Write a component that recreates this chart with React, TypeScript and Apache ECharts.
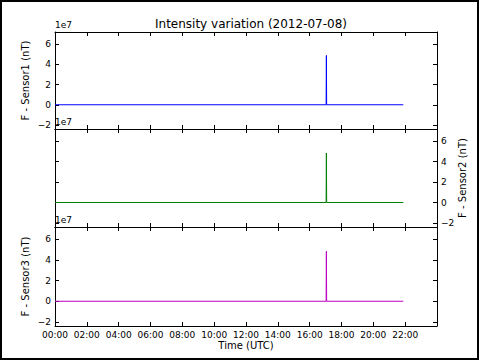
import React, { useEffect, useRef } from "react";
import * as echarts from "echarts";

const title = "Intensity variation (2012-07-08)";
const times = ["00:00", "17:02", "17:03", "17:04", "21:53"];
const sensor1 = [0, 0, 4.88e7, 0, 0];
const sensor2 = [0, 0, 4.85e7, 0, 0];
const sensor3 = [0, 0, 4.85e7, 0, 0];
const sensorNames = ["F - Sensor1 (nT)", "F - Sensor2 (nT)", "F - Sensor3 (nT)"];
const sensorColors = ["#0000ff", "#008000", "#bf00bf"];
const xLabel = "Time (UTC)";
const offsetLabel = "1e7";

const FONT = "DejaVu Sans";

function toHours(t: string): number {
  const [h, m] = t.split(":").map(Number);
  return h + m / 60;
}

function fmtY(v: number): string {
  const u = Math.round(v / 1e6) / 10;
  if (u < 0) return "\u2212" + Math.abs(u);
  return String(u);
}

function fmtX(v: number): string {
  const h = Math.round(v);
  return (h < 10 ? "0" : "") + h + ":00";
}

export default function App() {
  const ref = useRef<HTMLDivElement>(null);
  useEffect(() => {
    if (!ref.current) return;
    const chart = echarts.init(ref.current, null, { renderer: "svg" });
    const grids = [
      { left: 55, right: 43, top: 32, height: 97, outerBoundsMode: "none", containLabel: false },
      { left: 55, right: 43, top: 129, height: 98, outerBoundsMode: "none", containLabel: false },
      { left: 55, right: 43, top: 227, height: 99, outerBoundsMode: "none", containLabel: false },
    ];
    const series = [sensor1, sensor2, sensor3];
    const yMin = -2.4e7;
    const yMax = 7.2e7;
    const lineStyle = { color: "#000", width: 1 };
    const xAxes: any[] = [];
    const yAxes: any[] = [];
    grids.forEach((g, i) => {
      const isLast = i === 2;
      xAxes.push({
        type: "value",
        gridIndex: i,
        position: "bottom",
        min: 0,
        max: 24,
        interval: 2,
        axisLine: { show: true, onZero: false, lineStyle },
        axisTick: { show: true, inside: true, length: 4, lineStyle },
        splitLine: { show: false },
        axisLabel: {
          show: isLast,
          formatter: fmtX,
          showMaxLabel: false,
          color: "#000",
          fontFamily: FONT,
          fontSize: 9,
          margin: 4,
        },
        name: isLast ? xLabel : "",
        nameLocation: "middle",
        nameGap: 14,
        nameMoveOverlap: false,
        nameTextStyle: { color: "#000", fontFamily: FONT, fontSize: 10 },
      });
      xAxes.push({
        type: "value",
        gridIndex: i,
        position: "top",
        min: 0,
        max: 24,
        interval: 2,
        axisLine: { show: true, onZero: false, lineStyle },
        axisTick: { show: true, inside: true, length: 4, lineStyle },
        splitLine: { show: false },
        axisLabel: { show: false },
      });
      const labelSide = i === 1 ? "right" : "left";
      const otherSide = i === 1 ? "left" : "right";
      yAxes.push({
        type: "value",
        gridIndex: i,
        position: labelSide,
        min: yMin,
        max: yMax,
        splitNumber: 5,
        axisLine: { show: true, onZero: false, lineStyle },
        axisTick: { show: true, inside: true, length: 4, lineStyle },
        splitLine: { show: false },
        axisLabel: {
          show: true,
          formatter: fmtY,
          showMinLabel: false,
          showMaxLabel: false,
          color: "#000",
          fontFamily: FONT,
          fontSize: 9,
          margin: 4,
        },
        name: sensorNames[i],
        nameLocation: "middle",
        nameGap: i === 1 ? 20 : 25,
        nameRotate: 90,
        nameMoveOverlap: false,
        nameTextStyle: { color: "#000", fontFamily: FONT, fontSize: 10 },
      });
      yAxes.push({
        type: "value",
        gridIndex: i,
        position: otherSide,
        min: yMin,
        max: yMax,
        splitNumber: 5,
        axisLine: { show: true, onZero: false, lineStyle },
        axisTick: { show: true, inside: true, length: 4, lineStyle },
        splitLine: { show: false },
        axisLabel: { show: false },
      });
    });

    chart.setOption({
      animation: false,
      backgroundColor: "#fff",
      title: {
        text: title,
        left: 246,
        textAlign: "center",
        top: 13,
        textStyle: { color: "#000", fontFamily: FONT, fontSize: 12, fontWeight: "normal" },
      },
      grid: grids,
      xAxis: xAxes,
      yAxis: yAxes,
      series: series.map((vals, i) => ({
        type: "line",
        xAxisIndex: i * 2,
        yAxisIndex: i * 2,
        showSymbol: false,
        symbol: "none",
        data: times.map((t, j) => [toHours(t), vals[j]]),
        lineStyle: { color: sensorColors[i], width: 1 },
        itemStyle: { color: sensorColors[i] },
      })),
      graphic: [
        {
          type: "rect",
          shape: { x: 1, y: 1, width: 477, height: 358 },
          style: { fill: "none", stroke: "#000", lineWidth: 2 },
          silent: true,
        },
        ...grids.map((g) => ({
          type: "text",
          x: 55,
          y: g.top - 3,
          style: {
            text: offsetLabel,
            fill: "#000",
            font: `9px "${FONT}"`,
            textVerticalAlign: "bottom",
            verticalAlign: "bottom",
          },
          silent: true,
        })),
      ],
    });
    return () => chart.dispose();
  }, []);
  return (
    <div
      ref={ref}
      style={{ position: "fixed", left: 0, top: 0, width: 480, height: 361 }}
    />
  );
}
